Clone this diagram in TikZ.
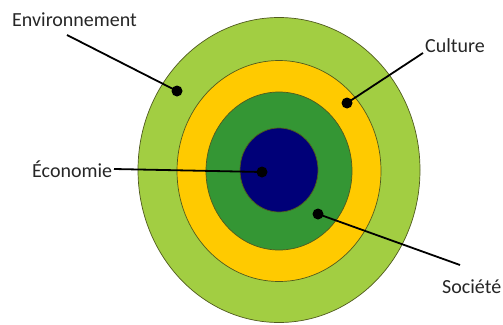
\documentclass[tikz,border=0pt]{standalone}
\usepackage{fontspec}
\setmainfont{Carlito}
\definecolor{envgreen}{RGB}{162,206,66}
\definecolor{culyellow}{RGB}{255,202,0}
\definecolor{socgreen}{RGB}{52,150,52}
\definecolor{econblue}{RGB}{0,0,120}
\definecolor{ringedge}{RGB}{80,90,30}
\begin{document}
\begin{tikzpicture}[x=1pt,y=-1pt,
  ring/.style={draw=ringedge,line width=0.7pt},
  dotmark/.style={circle,fill=black,inner sep=0pt,minimum size=11pt},
  lbl/.style={font=\fontsize{20}{24}\selectfont,inner sep=0pt,anchor=base west,text=black!85},
  leader/.style={line width=1.8pt,black}]
\useasboundingbox (0,0) rectangle (503,324);
\fill[envgreen,ring] (279,170) ellipse [x radius=141,y radius=152.5];
\fill[culyellow,ring] (279,171) ellipse [x radius=102,y radius=110.5];
\fill[socgreen,ring] (279,171) ellipse [x radius=73,y radius=79];
\fill[econblue,ring] (279,170) ellipse [x radius=39,y radius=42];
% labels
\node[lbl] (env) at (12,26) {Environnement};
\node[lbl] (cul) at (425,52) {Culture};
\node[lbl] (eco) at (32,177) {Économie};
\node[lbl] (soc) at (442,293) {Société};
% dots
\node[dotmark] (denv) at (177,91) {};
\node[dotmark] (dcul) at (347,103) {};
\node[dotmark] (deco) at (262,172) {};
\node[dotmark] (dsoc) at (318,214) {};
% leader ends
\coordinate (eenv) at (67,35);
\coordinate (ecul) at (423,53);
\coordinate (eeco) at (114,169);
\coordinate (esoc) at (460,265);
\draw[leader] (eenv) -- (denv.center);
\draw[leader] (ecul) -- (dcul.center);
\draw[leader] (eeco) -- (deco.center);
\draw[leader] (esoc) -- (dsoc.center);
\end{tikzpicture}
\end{document}
